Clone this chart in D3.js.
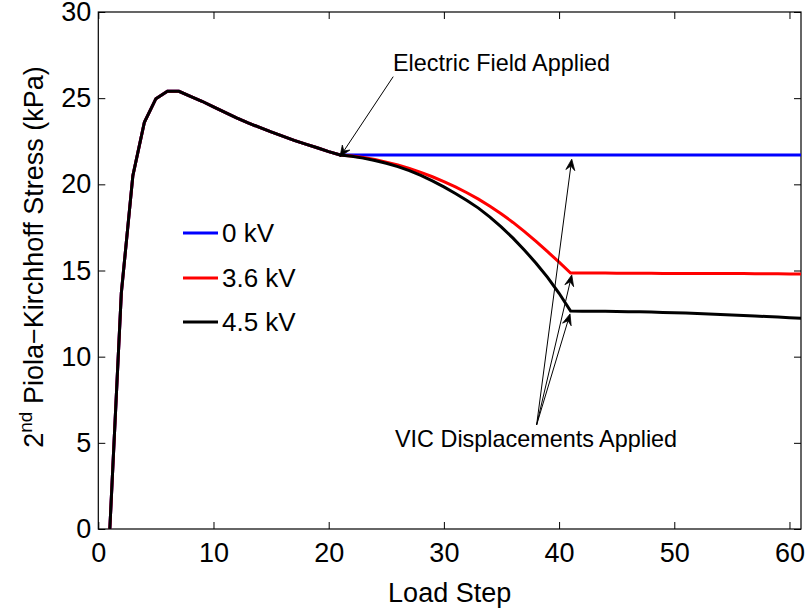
<!DOCTYPE html>
<html>
<head>
<meta charset="utf-8">
<script src="https://cdn.jsdelivr.net/npm/d3@7"></script>
<style>
  html, body { margin: 0; padding: 0; background: #fff; }
  svg { display: block; font-family: "Liberation Sans", Arial, Helvetica, sans-serif; }
</style>
</head>
<body>
<svg id="chart" width="807" height="612"></svg>
<script>
// ---- data ----
const loadSteps = d3.range(1, 62); // load steps 1..61

// shared loading curve, steps 1..21
const commonStress = [0, 13.7, 20.5, 23.6, 24.97, 25.4, 25.4, 25.1, 24.82, 24.5,
  24.17, 23.86, 23.57, 23.3, 23.04, 22.8, 22.55, 22.33, 22.12, 21.9, 21.7];

// steps 22..61 for each voltage
const tail0kV = [21.7, 21.7, 21.7, 21.7, 21.7, 21.7, 21.7, 21.7, 21.7, 21.7,
  21.7, 21.7, 21.7, 21.7, 21.7, 21.7, 21.7, 21.7, 21.7, 21.7,
  21.7, 21.7, 21.7, 21.7, 21.7, 21.7, 21.7, 21.7, 21.7, 21.7,
  21.7, 21.7, 21.7, 21.7, 21.7, 21.7, 21.7, 21.7, 21.7, 21.7];
const tail36kV = [21.65, 21.56, 21.44, 21.29, 21.12, 20.92, 20.69, 20.44, 20.16, 19.85,
  19.51, 19.14, 18.73, 18.28, 17.79, 17.26, 16.69, 16.09, 15.48, 14.85,
  14.85, 14.85, 14.85, 14.84, 14.84, 14.84, 14.84, 14.83, 14.83, 14.83,
  14.83, 14.82, 14.82, 14.82, 14.82, 14.81, 14.81, 14.81, 14.8, 14.8];
const tail45kV = [21.63, 21.52, 21.38, 21.22, 21.03, 20.8, 20.52, 20.2, 19.85, 19.47,
  19.06, 18.62, 18.1, 17.52, 16.88, 16.18, 15.42, 14.6, 13.68, 12.65,
  12.64, 12.64, 12.63, 12.62, 12.61, 12.6, 12.59, 12.57, 12.55, 12.53,
  12.51, 12.48, 12.45, 12.42, 12.39, 12.36, 12.33, 12.3, 12.26, 12.23];

const seriesNames = ["0 kV", "3.6 kV", "4.5 kV"];
const seriesColors = ["#0000ff", "#ff0000", "#000000"];
const seriesValues = [
  commonStress.concat(tail0kV),
  commonStress.concat(tail36kV),
  commonStress.concat(tail45kV)
];

const xTicks = [0, 10, 20, 30, 40, 50, 60];
const yTicks = [0, 5, 10, 15, 20, 25, 30];

// ---- layout ----
const svg = d3.select("#chart");
const L = 98.3, R = 801, T = 12, B = 529;
const x = d3.scaleLinear().domain([0, 61]).range([L, R]);
const y = d3.scaleLinear().domain([0, 30]).range([B, T]);
const tickFont = 27;

svg.append("defs").append("clipPath").attr("id", "plotclip")
  .append("rect").attr("x", L).attr("y", T).attr("width", R - L).attr("height", B - T);

// axes (inward ticks on all sides)
function styleAxis(g) {
  g.select(".domain").remove();
  g.selectAll(".tick line").attr("stroke", "#000").attr("stroke-width", 1);
  g.selectAll(".tick text").attr("fill", "#000").attr("font-size", tickFont)
    .attr("font-family", "Liberation Sans, Arial, sans-serif");
}
svg.append("g").attr("transform", `translate(0,${B})`)
  .call(d3.axisBottom(x).tickValues(xTicks).tickSizeInner(-7).tickSizeOuter(0).tickPadding(14))
  .call(styleAxis);
svg.append("g").attr("transform", `translate(0,${T})`)
  .call(d3.axisTop(x).tickValues(xTicks).tickSizeInner(-7).tickSizeOuter(0).tickFormat(""))
  .call(styleAxis);
svg.append("g").attr("transform", `translate(${L},0)`)
  .call(d3.axisLeft(y).tickValues(yTicks).tickSizeInner(-7).tickSizeOuter(0).tickPadding(7))
  .call(styleAxis);
svg.append("g").attr("transform", `translate(${R},0)`)
  .call(d3.axisRight(y).tickValues(yTicks).tickSizeInner(-7).tickSizeOuter(0).tickFormat(""))
  .call(styleAxis);

// box
svg.append("rect").attr("x", L).attr("y", T).attr("width", R - L).attr("height", B - T)
  .attr("fill", "none").attr("stroke", "#000").attr("stroke-width", 1.2);

// lines
const line = d3.line().x((d, i) => x(loadSteps[i])).y(d => y(d));
const lg = svg.append("g").attr("clip-path", "url(#plotclip)");
seriesValues.forEach((vals, k) => {
  lg.append("path").datum(vals).attr("d", line)
    .attr("fill", "none").attr("stroke", seriesColors[k]).attr("stroke-width", 3)
    .attr("stroke-linejoin", "miter");
});

// legend
const legY = [233, 278, 322];
seriesNames.forEach((name, k) => {
  svg.append("line").attr("x1", 183).attr("x2", 218).attr("y1", legY[k]).attr("y2", legY[k])
    .attr("stroke", seriesColors[k]).attr("stroke-width", 3);
  svg.append("text").attr("x", 222).attr("y", legY[k]).attr("dy", "0.36em")
    .attr("font-size", 26).attr("fill", "#000").text(name);
});

// annotations
function arrow(x1, y1, x2, y2) {
  const g = svg.append("g");
  const ang = Math.atan2(y2 - y1, x2 - x1);
  const len = 11, hw = 4.5, notch = 7;
  const bx = x2 - len * Math.cos(ang), by = y2 - len * Math.sin(ang);
  const nx = x2 - notch * Math.cos(ang), ny = y2 - notch * Math.sin(ang);
  const px = -Math.sin(ang), py = Math.cos(ang);
  g.append("line").attr("x1", x1).attr("y1", y1).attr("x2", nx).attr("y2", ny)
    .attr("stroke", "#000").attr("stroke-width", 1);
  g.append("path")
    .attr("d", `M${x2},${y2} L${bx + hw * px},${by + hw * py} L${nx},${ny} L${bx - hw * px},${by - hw * py} Z`)
    .attr("fill", "#000").attr("stroke", "#000").attr("stroke-width", 0.8).attr("stroke-linejoin", "miter");
}
arrow(x(25.6), y(26.25), x(20.98), y(21.6));
const vicFrom = [38.05, 6.04];
[[41.1, 21.46], [41.1, 14.74], [40.95, 12.48]].forEach(t => {
  arrow(x(vicFrom[0]), y(vicFrom[1]), x(t[0]), y(t[1]));
});

svg.append("text").attr("x", 393).attr("y", 71).attr("font-size", 23.4).attr("fill", "#000")
  .text("Electric Field Applied");
svg.append("text").attr("x", 395).attr("y", 447).attr("font-size", 23.4).attr("fill", "#000")
  .text("VIC Displacements Applied");

// axis labels
svg.append("text").attr("x", (L + R) / 2).attr("y", 602).attr("text-anchor", "middle")
  .attr("font-size", tickFont).attr("fill", "#000").text("Load Step");

const yl = svg.append("text").attr("transform", `translate(43,257) rotate(-90)`)
  .attr("text-anchor", "middle").attr("font-size", tickFont).attr("fill", "#000");
yl.append("tspan").text("2");
yl.append("tspan").attr("font-size", 19).attr("dy", -11).text("nd");
yl.append("tspan").attr("dy", 11).text(" Piola\u2212Kirchhoff Stress (kPa)");
</script>
</body>
</html>
